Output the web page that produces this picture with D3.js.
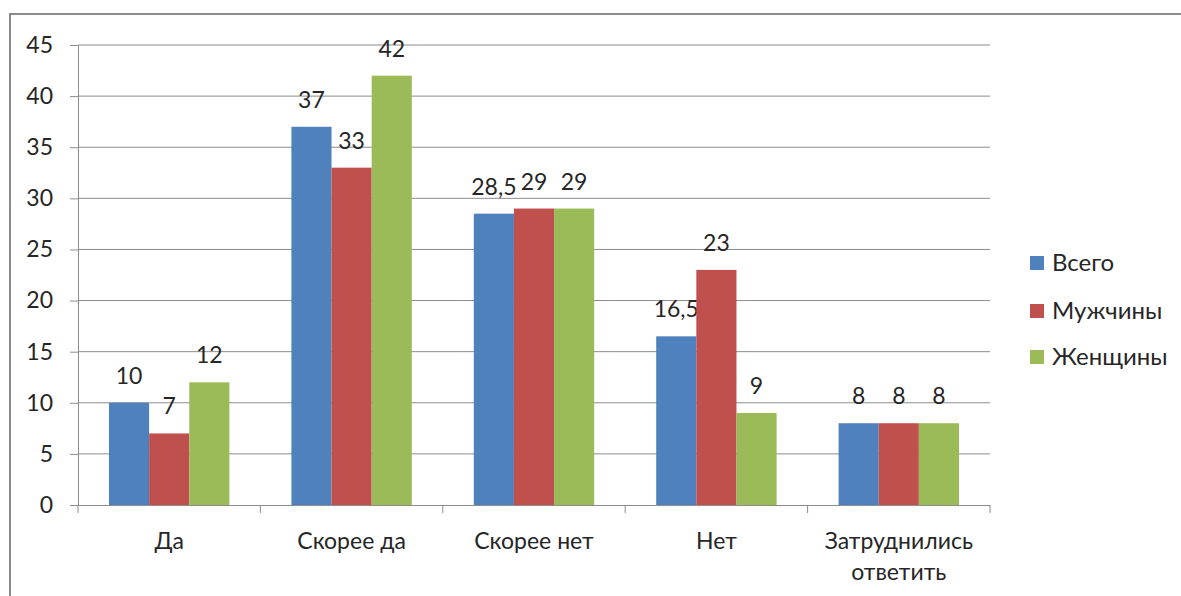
<!DOCTYPE html>
<html><head><meta charset="utf-8">
<script src="https://cdn.jsdelivr.net/npm/d3@7"></script>
<style>
html,body{margin:0;padding:0;background:#fff;}
svg{display:block;font-family:Lato, "Open Sans", sans-serif;}
</style></head>
<body>
<svg id="chart" width="1181" height="596"></svg>
<script>
const categories = ["Да", "Скорее да", "Скорее нет", "Нет", "Затруднились ответить"];
const seriesNames = ["Всего", "Мужчины", "Женщины"];
const vsego = [10, 37, 28.5, 16.5, 8];
const muzhchiny = [7, 33, 29, 23, 8];
const zhenshchiny = [12, 42, 29, 9, 8];
const yTicks = [0, 5, 10, 15, 20, 25, 30, 35, 40, 45];
const colors = ["#4F81BD", "#C0504D", "#9BBB59"];
const seriesValues = [vsego, muzhchiny, zhenshchiny];

const svg = d3.select("#chart");
const m = {left: 78, right: 990, top: 45, bottom: 505};
const FS = 23;
const txt = "#262626";

// outer border
svg.append("rect").attr("x", 10).attr("y", 14).attr("width", 1185).attr("height", 600)
  .attr("fill", "none").attr("stroke", "#8a8a8a").attr("stroke-width", 2);

const x0 = d3.scaleBand().domain(categories).range([m.left, m.right]).paddingInner(0).paddingOuter(0);
const groupPad = 31;
const x1 = d3.scaleBand().domain(seriesNames).range([groupPad, x0.bandwidth() - groupPad]);
const y = d3.scaleLinear().domain([0, 45]).range([m.bottom, m.top]);

// gridlines
svg.append("g").selectAll("line").data(yTicks.filter(d => d > 0)).join("line")
  .attr("x1", m.left).attr("x2", m.right)
  .attr("y1", d => y(d)).attr("y2", d => y(d))
  .attr("stroke", "#8c8c8c").attr("stroke-width", 1);

// y axis
const yAxis = svg.append("g").attr("transform", `translate(${m.left},0)`)
  .call(d3.axisLeft(y).tickValues(yTicks).tickSize(8).tickPadding(17));
yAxis.select(".domain").attr("stroke", "#8c8c8c");
yAxis.selectAll(".tick line").attr("stroke", "#8c8c8c");
yAxis.selectAll("text").attr("font-size", FS).attr("fill", txt).attr("font-family", "Lato, sans-serif");

// x axis
const xAxis = svg.append("g").attr("transform", `translate(0,${m.bottom})`)
  .call(d3.axisBottom(x0).tickSize(0).tickFormat(""));
xAxis.select(".domain").attr("stroke", "#8c8c8c");
// category boundary ticks
const bounds = d3.range(categories.length + 1).map(i => m.left + i * x0.bandwidth());
svg.append("g").selectAll("line").data(bounds).join("line")
  .attr("x1", d => d).attr("x2", d => d).attr("y1", m.bottom).attr("y2", m.bottom + 8)
  .attr("stroke", "#8c8c8c");

// category labels
const catG = svg.append("g");
categories.forEach(c => {
  const words = c === "Затруднились ответить" ? ["Затруднились", "ответить"] : [c];
  const t = catG.append("text").attr("text-anchor", "middle")
    .attr("x", x0(c) + x0.bandwidth() / 2).attr("y", 549)
    .attr("font-size", FS).attr("fill", txt);
  words.forEach((w, i) => t.append("tspan").attr("x", x0(c) + x0.bandwidth() / 2).attr("dy", i === 0 ? 0 : 31).text(w));
});

// bars
const fmt = v => String(v).replace(".", ",");
seriesNames.forEach((s, si) => {
  const g = svg.append("g");
  g.selectAll("rect").data(categories).join("rect")
    .attr("x", c => x0(c) + x1(s))
    .attr("y", (c, i) => y(seriesValues[si][i]))
    .attr("width", x1.bandwidth())
    .attr("height", (c, i) => m.bottom - y(seriesValues[si][i]))
    .attr("fill", colors[si]);
  g.selectAll("text").data(categories).join("text")
    .attr("x", c => x0(c) + x1(s) + x1.bandwidth() / 2)
    .attr("y", (c, i) => y(seriesValues[si][i]) - 19)
    .attr("text-anchor", "middle").attr("font-size", FS).attr("fill", txt)
    .text((c, i) => fmt(seriesValues[si][i]));
});

// legend
const leg = svg.append("g");
const legY = [263, 311, 357];
seriesNames.forEach((s, i) => {
  leg.append("rect").attr("x", 1030).attr("y", legY[i] - 7).attr("width", 14).attr("height", 14).attr("fill", colors[i]);
  leg.append("text").attr("x", 1052).attr("y", legY[i] + 8).attr("font-size", 24).attr("fill", txt).text(s);
});
</script>
</body></html>
